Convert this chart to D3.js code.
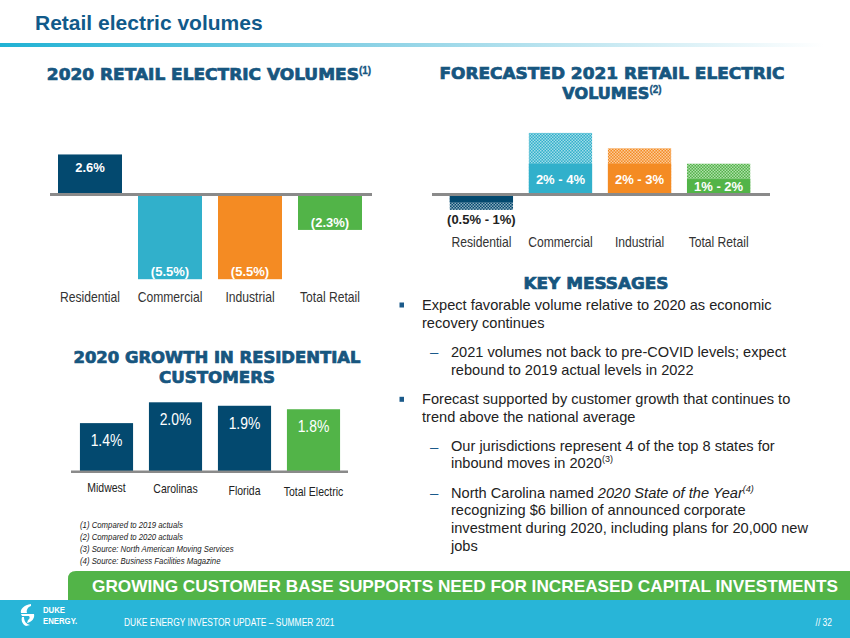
<!DOCTYPE html>
<html><head><meta charset="utf-8">
<script src="https://cdn.jsdelivr.net/npm/d3@7"></script>
<style>
html,body{margin:0;padding:0;background:#fff;}
svg{display:block;}
text{font-family:"Liberation Sans",Arial,sans-serif;}
.heavy{font-family:"DejaVu Sans","Liberation Sans",sans-serif;font-weight:bold;}
</style></head>
<body>
<svg id="chart" width="850" height="638"></svg>
<script>
// ---------- data ----------
const volCategories = ["Residential", "Commercial", "Industrial", "Total Retail"];
const vol2020 = [2.6, -5.5, -5.5, -2.3];
const vol2020Labels = ["2.6%", "(5.5%)", "(5.5%)", "(2.3%)"];
const fc2021Low = [-0.5, 2, 2, 1];
const fc2021High = [-1, 4, 3, 2];
const fc2021Labels = ["(0.5% - 1%)", "2% - 4%", "2% - 3%", "1% - 2%"];
const growthCategories = ["Midwest", "Carolinas", "Florida", "Total Electric"];
const growthValues = [1.4, 2.0, 1.9, 1.8];
const growthLabels = ["1.4%", "2.0%", "1.9%", "1.8%"];
const volColors = ["#03496f", "#31b0cb", "#f48b23", "#52b448"];
const growthColors = ["#03496f", "#03496f", "#03496f", "#52b448"];
const footnotes = ["(1)  Compared to 2019 actuals", "(2)  Compared to 2020 actuals",
  "(3)  Source: North American Moving Services", "(4)  Source: Business Facilities Magazine"];

const NARROW = 0.82;
const svg = d3.select("#chart");
const titleBlue = "#17567f";
const defs = svg.append("defs");

// title gradient
const grad = defs.append("linearGradient").attr("id", "tg").attr("x1", "0").attr("x2", "1");
grad.append("stop").attr("offset", "0").attr("stop-color", "#20b2d4");
grad.append("stop").attr("offset", "0.45").attr("stop-color", "#8fd3e6");
grad.append("stop").attr("offset", "0.97").attr("stop-color", "#ffffff");

// hatched patterns
volColors.forEach((c, i) => {
  const p = defs.append("pattern").attr("id", "pat" + i).attr("patternUnits", "userSpaceOnUse")
    .attr("width", 3).attr("height", 3);
  p.append("rect").attr("width", 3).attr("height", 3).attr("fill", c);
  p.append("rect").attr("width", 1.5).attr("height", 1.5).attr("fill", "#fff").attr("opacity", 0.55);
  p.append("rect").attr("x", 1.5).attr("y", 1.5).attr("width", 1.5).attr("height", 1.5).attr("fill", "#fff").attr("opacity", 0.55);
});

// narrow text helper: draws text horizontally condensed around (x, y)
function narrowText(parent, x, y, txt, size) {
  return parent.append("text").attr("x", 0).attr("y", 0)
    .attr("transform", `translate(${x},${y}) scale(${NARROW},1)`)
    .attr("font-size", size).text(txt);
}

// ---------- page title ----------
svg.append("text").attr("x", 35).attr("y", 30).attr("font-size", 21).attr("font-weight", "bold")
  .attr("fill", "#115a8a").text("Retail electric volumes");
svg.append("rect").attr("x", 0).attr("y", 43).attr("width", 850).attr("height", 4).attr("fill", "url(#tg)");

// ---------- helpers ----------
function heavyTitle(x, y, txt, sup, len) {
  const t = svg.append("text").attr("class", "heavy").attr("x", x).attr("y", y)
    .attr("font-size", 15).attr("fill", titleBlue).attr("stroke", titleBlue).attr("stroke-width", 0.7)
    .attr("text-anchor", "middle");
  const m = t.append("tspan").text(txt);
  if (len) m.attr("textLength", len).attr("lengthAdjust", "spacingAndGlyphs");
  if (sup) t.append("tspan").attr("font-size", 10).attr("dy", -6).attr("stroke-width", 0.3)
    .attr("font-family", "Liberation Sans").text(sup);
  return t;
}

// shared y scale for the two volume charts
const yVol = d3.scaleLinear().domain([-6, 4]).range([194.5 + 6 * 15.4, 194.5 - 4 * 15.4]);

// ---------- chart 1: 2020 retail electric volumes ----------
heavyTitle(209, 80, "2020 RETAIL ELECTRIC VOLUMES", "(1)", 312);
const x1 = d3.scaleBand().domain(volCategories).range([50, 370]).paddingInner(0.2).paddingOuter(0.1);
const g1 = svg.append("g");
g1.selectAll("rect.bar").data(volCategories).join("rect").attr("class", "bar")
  .attr("x", d => x1(d)).attr("width", x1.bandwidth())
  .attr("y", (d, i) => yVol(Math.max(0, vol2020[i])))
  .attr("height", (d, i) => Math.abs(yVol(vol2020[i]) - yVol(0)))
  .attr("fill", (d, i) => volColors[i]);
g1.append("line").attr("x1", 50).attr("x2", 372).attr("y1", yVol(0)).attr("y2", yVol(0))
  .attr("stroke", "#8a8a8a").attr("stroke-width", 3);
g1.selectAll("text.val").data(volCategories).join("text").attr("class", "val")
  .attr("x", d => x1(d) + x1.bandwidth() / 2)
  .attr("y", (d, i) => vol2020[i] >= 0 ? yVol(vol2020[i]) + 13 : yVol(vol2020[i]) - 7.5)
  .attr("dominant-baseline", "central").attr("text-anchor", "middle")
  .attr("font-size", 13).attr("font-weight", "bold").attr("fill", "#fff")
  .text((d, i) => vol2020Labels[i]);
const ax1 = g1.append("g").attr("transform", `translate(0,${yVol(0)})`)
  .call(d3.axisBottom(x1).tickSize(0).tickPadding(0));
ax1.select(".domain").remove();
ax1.selectAll("text").attr("y", 103).attr("dy", null).attr("transform", `scale(${NARROW},1)`)
  .attr("dominant-baseline", "central").attr("font-size", 14.8).attr("font-family", "Liberation Sans").attr("fill", "#333");

// ---------- chart 2: forecasted 2021 ----------
heavyTitle(612, 79, "FORECASTED 2021 RETAIL ELECTRIC", null, 345);
heavyTitle(612, 99, "VOLUMES", "(2)", 87);
const x2 = d3.scaleBand().domain(volCategories).range([430, 770]).paddingInner(0.2).paddingOuter(0.25);
const g2 = svg.append("g");
g2.selectAll("rect.hi").data(volCategories).join("rect").attr("class", "hi")
  .attr("x", d => x2(d)).attr("width", x2.bandwidth())
  .attr("y", (d, i) => yVol(Math.max(0, fc2021High[i])))
  .attr("height", (d, i) => Math.abs(yVol(fc2021High[i]) - yVol(0)))
  .attr("fill", (d, i) => `url(#pat${i})`);
g2.selectAll("rect.lo").data(volCategories).join("rect").attr("class", "lo")
  .attr("x", d => x2(d)).attr("width", x2.bandwidth())
  .attr("y", (d, i) => yVol(Math.max(0, fc2021Low[i])))
  .attr("height", (d, i) => Math.abs(yVol(fc2021Low[i]) - yVol(0)))
  .attr("fill", (d, i) => volColors[i]);
g2.append("line").attr("x1", 432).attr("x2", 770).attr("y1", yVol(0)).attr("y2", yVol(0))
  .attr("stroke", "#8a8a8a").attr("stroke-width", 3);
g2.selectAll("text.val").data(volCategories).join("text").attr("class", "val")
  .attr("x", d => x2(d) + x2.bandwidth() / 2)
  .attr("y", (d, i) => fc2021Low[i] >= 0 ? (yVol(fc2021Low[i]) + yVol(0)) / 2 : yVol(fc2021High[i]) + 10)
  .attr("dominant-baseline", "central").attr("text-anchor", "middle")
  .attr("font-size", 13).attr("font-weight", "bold")
  .attr("fill", (d, i) => fc2021Low[i] >= 0 ? "#fff" : "#222")
  .text((d, i) => fc2021Labels[i]);
const ax2 = g2.append("g").attr("transform", `translate(0,${yVol(0)})`)
  .call(d3.axisBottom(x2).tickSize(0).tickPadding(0));
ax2.select(".domain").remove();
ax2.selectAll("text").attr("y", 47.5).attr("dy", null).attr("transform", `scale(${NARROW},1)`)
  .attr("dominant-baseline", "central").attr("font-size", 14.8).attr("font-family", "Liberation Sans").attr("fill", "#333");

// ---------- chart 3: residential customer growth ----------
heavyTitle(217, 363, "2020 GROWTH IN RESIDENTIAL", null, 287);
heavyTitle(217, 383, "CUSTOMERS", null, 116);
const yG = d3.scaleLinear().domain([0, 2.5]).range([471.7, 471.7 - 2.5 * 34.7]);
const x3 = d3.scaleBand().domain(growthCategories).range([72, 348]).paddingInner(0.23).paddingOuter(0.115);
const g3 = svg.append("g");
g3.selectAll("rect.bar").data(growthCategories).join("rect").attr("class", "bar")
  .attr("x", d => x3(d)).attr("width", x3.bandwidth())
  .attr("y", (d, i) => yG(growthValues[i]))
  .attr("height", (d, i) => yG(0) - yG(growthValues[i]))
  .attr("fill", (d, i) => growthColors[i]);
g3.append("line").attr("x1", 71).attr("x2", 348).attr("y1", yG(0)).attr("y2", yG(0))
  .attr("stroke", "#8a8a8a").attr("stroke-width", 2.5);
g3.selectAll("text.val").data(growthCategories).join("text").attr("class", "val")
  .attr("x", 0).attr("y", 0)
  .attr("transform", (d, i) => `translate(${x3(d) + x3.bandwidth() / 2},${yG(growthValues[i]) + 17}) scale(${NARROW},1)`)
  .attr("dominant-baseline", "central").attr("text-anchor", "middle")
  .attr("font-size", 17).attr("fill", "#fff")
  .text((d, i) => growthLabels[i]);
const ax3 = g3.append("g").attr("transform", `translate(0,${yG(0)})`)
  .call(d3.axisBottom(x3).tickSize(0).tickPadding(0));
ax3.select(".domain").remove();
ax3.selectAll("text").attr("y", (d, i) => 15 + i * 1.6).attr("dy", null).attr("transform", `scale(${NARROW},1)`)
  .attr("dominant-baseline", "central").attr("font-size", 12.8).attr("font-family", "Liberation Sans").attr("fill", "#222");

// ---------- footnotes ----------
const fg = svg.append("g").attr("fill", "#222");
footnotes.forEach((d, i) => {
  narrowText(fg, 80, 528 + i * 12, d, 9.5).attr("font-style", "italic");
});

// ---------- key messages ----------
heavyTitle(596, 289, "KEY MESSAGES", null, 145);
const km = [
  {lvl: 0, y: 305, parts: [["Expect favorable volume relative to 2020 as economic"]]},
  {lvl: -1, y: 323.3, parts: [["recovery continues"]]},
  {lvl: 1, y: 351.7, parts: [["2021 volumes not back to pre-COVID levels; expect"]]},
  {lvl: -2, y: 370, parts: [["rebound to 2019 actual levels in 2022"]]},
  {lvl: 0, y: 399.3, parts: [["Forecast supported by customer growth that continues to"]]},
  {lvl: -1, y: 417, parts: [["trend above the national average"]]},
  {lvl: 1, y: 446, parts: [["Our jurisdictions represent 4 of the top 8 states for"]]},
  {lvl: -2, y: 463.3, parts: [["inbound moves in 2020"], ["(3)", "sup"]]},
  {lvl: 1, y: 492.7, parts: [["North Carolina named "], ["2020 State of the Year", "it"], ["(4)", "supit"]]},
  {lvl: -2, y: 510.3, parts: [["recognizing $6 billion of announced corporate"]]},
  {lvl: -2, y: 528.3, parts: [["investment during 2020, including plans for 20,000 new"]]},
  {lvl: -2, y: 546, parts: [["jobs"]]}
];
const kg = svg.append("g");
km.forEach(l => {
  const x = (l.lvl === 0 || l.lvl === -1) ? 422 : 451;
  if (l.lvl === 0) kg.append("rect").attr("x", 399.5).attr("y", l.y - 2.5).attr("width", 4.5).attr("height", 5).attr("fill", "#1b5a8a");
  if (l.lvl === 1) kg.append("text").attr("x", 430).attr("y", l.y).attr("dominant-baseline", "central")
    .attr("font-size", 15).attr("fill", "#1b5a8a").text("–");
  const t = kg.append("text").attr("x", x).attr("y", l.y).attr("dominant-baseline", "central")
    .attr("font-size", 14.6).attr("fill", "#222");
  l.parts.forEach(p => {
    const s = t.append("tspan").text(p[0]);
    if (p[1] === "it") s.attr("font-style", "italic");
    if (p[1] === "sup" || p[1] === "supit") {
      s.attr("font-size", 9).attr("baseline-shift", "4");
      if (p[1] === "supit") s.attr("font-style", "italic");
    }
  });
});

// ---------- banner & footer ----------
svg.append("path").attr("d", "M68,600 L68,579 Q68,571 76,571 L850,571 L850,600 Z").attr("fill", "#52b448");
svg.append("text").attr("x", 465).attr("y", 586).attr("text-anchor", "middle").attr("dominant-baseline", "central")
  .attr("font-size", 17).attr("font-weight", "bold").attr("fill", "#fff")
  .attr("textLength", 746).attr("lengthAdjust", "spacingAndGlyphs")
  .text("GROWING CUSTOMER BASE SUPPORTS NEED FOR INCREASED CAPITAL INVESTMENTS");
svg.append("rect").attr("x", 0).attr("y", 600).attr("width", 850).attr("height", 38).attr("fill", "#28b5d8");
// logo
const lg = svg.append("g").attr("fill", "#fff");
lg.append("path").attr("d", "M31,604 C24,605 20,609 21,613 L27,613 C26,610 28,607 31,606 Z");
lg.append("path").attr("d", "M21,614 L34,614 C35,618 32,622 27,623 L28,620 C30,619 30,617 29,616 L22,616 Z");
lg.append("path").attr("d", "M24,617 C24,621 26,624 30,625 L26,626 C22,624 21,620 22,617 Z");
narrowText(lg, 43, 612.5, "DUKE", 9.5).attr("font-weight", "bold");
narrowText(lg, 43, 624, "ENERGY.", 9.5).attr("font-weight", "bold");
const ft = svg.append("g").attr("fill", "#fff");
narrowText(ft, 124, 626, "DUKE ENERGY INVESTOR UPDATE – SUMMER 2021", 10.3);
narrowText(ft, 832, 626, "//  32", 10.3).attr("text-anchor", "end");
</script>
</body></html>
